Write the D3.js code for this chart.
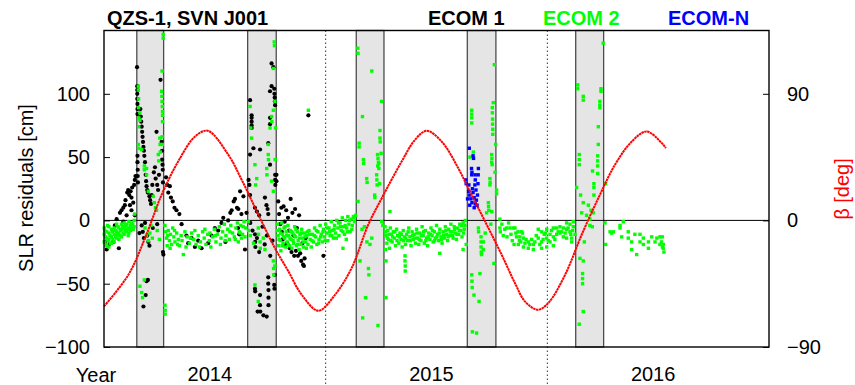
<!DOCTYPE html>
<html><head><meta charset="utf-8">
<script src="https://cdn.jsdelivr.net/npm/d3@7"></script>
<style>
html,body{margin:0;padding:0;background:#fff;}
svg{display:block;font-family:"Liberation Sans",Arial,sans-serif;}
</style></head><body>
<svg id="chart" width="855" height="385"></svg>
<script>
// ---------------- data ----------------
const eclipseStart = [2014.148, 2014.648, 2015.138, 2015.639, 2016.128];
const eclipseEnd   = [2014.269, 2014.777, 2015.263, 2015.768, 2016.254];
const yearLabels   = ["2014", "2015", "2016"];
const yearDividers = [2015, 2016];
const leftTicks  = [-100, -50, 0, 50, 100];
const rightTicks = [-90, 0, 90];

const betaTime = [2014.000,2014.110,2014.185,2014.260,2014.335,2014.411,2014.468,2014.561,2014.621,2014.711,2014.771,2014.831,2014.892,2014.967,2015.042,2015.117,2015.192,2015.253,2015.343,2015.403,2015.456,2015.523,2015.598,2015.643,2015.719,2015.794,2015.854,2015.899,2015.957,2016.004,2016.080,2016.155,2016.230,2016.305,2016.381,2016.448,2016.516,2016.535];
const betaDeg  = [-61.1,-38.7,-12.6,18.2,42.0,59.7,63.7,46.6,28.9,-0.7,-19.7,-36.0,-52.9,-64.2,-52.9,-33.9,-3.1,15.8,41.9,57.3,63.7,56.1,37.2,23.0,-0.7,-24.4,-44.6,-57.6,-63.5,-58.8,-38.7,-10.2,15.8,39.5,56.1,63.2,55.0,51.4];

// ECOM 1 (black)
const ecom1 = [
[2014.004,-17],[2014.012,-23],[2014.022,-19],[2014.042,-17],[2014.049,-4],[2014.057,1],[2014.067,-22],[2014.072,6],[2014.079,8],[2014.087,10],[2014.087,-1],[2014.094,12],[2014.097,16],[2014.102,4],[2014.105,22],[2014.109,24],[2014.114,20],[2014.117,12],[2014.120,23],[2014.124,18],[2014.124,8],[2014.127,26],[2014.132,14],[2014.136,28],[2014.139,32],[2014.139,4],[2014.142,35],
[2014.149,121],[2014.150,106],[2014.150,103],[2014.150,100],[2014.150,96],[2014.151,92],[2014.151,88],[2014.151,84],[2014.151,51],[2014.151,46],[2014.152,40],[2014.152,35],[2014.153,30],
[2014.164,88],[2014.166,82],[2014.168,78],[2014.170,74],[2014.172,70],[2014.174,66],[2014.176,62],[2014.178,58],[2014.180,55],[2014.182,51],[2014.185,46],
[2014.188,36],[2014.190,31],[2014.192,27],[2014.195,24],[2014.198,22],[2014.205,19],[2014.208,16],[2014.212,13],[2014.215,20],[2014.218,28],
[2014.225,38],[2014.230,42],[2014.233,33],[2014.237,70],[2014.240,28],[2014.244,24],[2014.248,36],
[2014.255,111],[2014.260,62],[2014.262,55],[2014.262,48],[2014.264,44],[2014.265,40],[2014.266,30],
[2014.170,-4],[2014.175,-9],[2014.180,-14],[2014.185,-2],[2014.195,-12],[2014.200,-17],[2014.205,-20],[2014.198,-47],[2014.192,-48],[2014.178,-68],[2014.188,-59],[2014.266,-25],[2014.268,-27],[2014.160,-10],[2014.220,-6],[2014.240,-3],
[2014.280,34],[2014.285,28],[2014.290,22],[2014.297,27],[2014.302,18],[2014.310,15],[2014.318,10],[2014.327,8],[2014.340,5],[2014.350,-3],[2014.372,-12],[2014.380,-18],[2014.395,-14],[2014.410,-21],[2014.425,-16],[2014.440,-22],[2014.470,-18],[2014.485,-12],[2014.500,-6],[2014.515,-8],[2014.530,-2],[2014.538,2],[2014.548,-17],[2014.560,0],[2014.570,6],[2014.576,8],[2014.585,15],[2014.591,17],[2014.600,10],[2014.606,9],[2014.614,23],[2014.620,5],[2014.629,19],[2014.605,-6],[2014.610,-11],[2014.636,-23],[2014.643,6],
[2014.659,95],[2014.666,83],[2014.666,81],[2014.666,78],[2014.666,75],[2014.666,73],[2014.659,52],[2014.652,32],[2014.656,28],[2014.659,20],[2014.674,57],[2014.704,56],[2014.681,10],[2014.690,7],[2014.700,4],[2014.726,18],[2014.733,12],[2014.738,9],[2014.741,5],[2014.749,102],[2014.756,106],[2014.756,124],[2014.764,121],[2014.768,104],[2014.769,100],[2014.770,97],[2014.771,94],[2014.772,91],[2014.749,81],[2014.749,76],[2014.741,61],[2014.749,44],[2014.772,36],[2014.772,32],[2014.773,28],[2014.778,36],[2014.778,31],
[2014.681,-11],[2014.682,-17],[2014.683,-21],[2014.681,-54],[2014.682,-56],[2014.693,-72],[2014.704,-59],[2014.704,-67],[2014.705,-72],[2014.719,-75],[2014.734,-76],[2014.741,-45],[2014.741,-50],[2014.742,-55],[2014.742,-61],[2014.742,-67],[2014.768,-51],[2014.769,-54],[2014.771,-43],[2014.660,-2],[2014.670,-8],[2014.690,-14],[2014.700,-25],[2014.715,-5],[2014.725,-19],[2014.735,-12],[2014.750,-28],[2014.760,-16],
[2014.786,15],[2014.790,5],[2014.795,-3],[2014.800,10],[2014.802,-9],[2014.806,-15],[2014.810,11],[2014.815,-1],[2014.818,-20],[2014.822,8],[2014.826,-18],[2014.830,2],[2014.835,-8],[2014.838,-22],[2014.842,17],[2014.846,-25],[2014.850,6],[2014.855,-12],[2014.858,-28],[2014.862,9],[2014.866,-24],[2014.870,-6],[2014.875,-28],[2014.880,4],[2014.885,-26],[2014.890,-32],[2014.895,-18],[2014.898,-35],[2014.902,-36],[2014.905,-30],[2014.910,-14],[2014.922,83],[2014.990,-28]
];

// ECOM 2 (green)
const ecom2 = [
[2014.001,-6],[2014.001,-11],[2014.001,-17],[2014.012,-9],[2014.012,-14],[2014.012,-19],[2014.022,-5],[2014.022,-10],[2014.022,-15],[2014.022,-21],[2014.034,-7],[2014.034,-13],[2014.034,-18],[2014.046,-6],[2014.046,-11],[2014.046,-17],[2014.057,-3],[2014.057,-9],[2014.057,-14],[2014.067,-6],[2014.067,-10],[2014.067,-15],[2014.079,-3],[2014.079,-7],[2014.079,-13],[2014.091,-2],[2014.091,-6],[2014.091,-11],[2014.102,-3],[2014.102,-9],[2014.112,-1],[2014.112,-6],[2014.112,-10],[2014.124,-2],[2014.124,-6],[2014.136,0],[2014.136,-5],[2014.138,5],
[2014.004,-8],[2014.007,-13],[2014.009,-20],[2014.016,-4],[2014.018,-16],[2014.027,-12],[2014.029,-18],[2014.038,-9],[2014.040,-15],[2014.051,-8],[2014.053,-13],[2014.061,-11],[2014.063,-5],[2014.071,-12],[2014.074,-8],[2014.084,-5],[2014.086,-10],[2014.095,-8],[2014.098,-4],[2014.107,-7],[2014.109,-12],[2014.118,-4],[2014.120,-8],[2014.130,-3],[2014.132,-7],
[2014.267,147],[2014.267,144],[2014.262,118],[2014.155,106],[2014.155,103],[2014.156,96],[2014.156,89],[2014.157,81],[2014.157,74],[2014.162,85],[2014.162,79],[2014.155,60],[2014.156,57],[2014.170,56],[2014.182,43],[2014.182,40],[2014.192,41],[2014.192,36],[2014.200,23],[2014.222,19],[2014.227,14],[2014.232,10],[2014.237,8],[2014.245,52],[2014.247,47],[2014.252,65],[2014.253,60],[2014.254,54],[2014.260,102],[2014.261,98],[2014.262,94],[2014.263,90],[2014.264,86],[2014.264,83],[2014.264,78],[2014.262,66],[2014.263,60],[2014.185,-6],[2014.192,-12],[2014.200,-16],[2014.207,-10],[2014.212,-4],[2014.218,-14],[2014.162,-52],[2014.174,-61],[2014.182,-47],[2014.170,-57],[2014.275,-67],[2014.276,-71],[2014.276,-74],[2014.240,-8],[2014.250,-15],
[2014.275,-4],[2014.278,-9],[2014.282,-14],[2014.285,-20],[2014.290,-8],[2014.295,-16],[2014.300,-11],[2014.305,-19],[2014.310,-6],[2014.315,-13],[2014.320,-17],[2014.328,-10],[2014.335,-15],[2014.340,-20],[2014.348,-12],[2014.358,-27],[2014.365,-9],[2014.375,-13],[2014.385,-18],[2014.395,-10],[2014.405,-15],[2014.415,-19],[2014.425,-12],[2014.435,-17],[2014.445,-9],[2014.452,-14],[2014.460,-19],[2014.468,-11],[2014.475,-16],[2014.482,-21],[2014.490,-13],[2014.498,-7],[2014.505,-17],[2014.512,-11],[2014.520,-5],[2014.528,-14],[2014.535,-9],[2014.543,-3],[2014.550,-12],[2014.558,-7],[2014.565,-15],[2014.572,-4],[2014.580,-10],[2014.588,-13],[2014.595,-6],[2014.602,-2],[2014.610,-9],[2014.617,-4],[2014.625,-11],[2014.632,-1],[2014.640,-6],[2014.614,-10],[2014.628,-5],[2014.636,-13],[2014.606,-17],
[2014.287,-12],[2014.298,-22],[2014.318,-8],[2014.332,-19],[2014.352,-16],[2014.370,-21],[2014.390,-14],[2014.410,-8],[2014.430,-21],[2014.455,-7],[2014.478,-10],[2014.502,-12],[2014.525,-19],[2014.547,-16],[2014.568,-9],[2014.592,-15],[2014.620,-14],
[2014.659,90],[2014.662,73],[2014.666,65],[2014.681,44],[2014.684,28],[2014.689,33],[2014.741,60],[2014.741,52],[2014.742,48],[2014.734,41],[2014.735,36],[2014.749,73],[2014.756,82],[2014.757,78],[2014.764,87],[2014.768,141],[2014.769,138],[2014.764,120],[2014.771,94],[2014.774,73],[2014.756,31],[2014.764,23],[2014.772,48],
[2014.651,-1],[2014.652,-8],[2014.696,-6],[2014.697,-11],[2014.704,-17],[2014.705,-22],[2014.719,-14],[2014.726,-23],[2014.681,-51],[2014.696,-64],[2014.764,-32],[2014.765,-38],[2014.766,-43],[2014.771,-36],[2014.660,-12],[2014.675,-18],
[2014.782,-3],[2014.785,-12],[2014.788,-20],[2014.792,-7],[2014.795,-16],[2014.798,-24],[2014.802,-2],[2014.805,-11],[2014.808,-18],[2014.812,-6],[2014.815,-14],[2014.818,-21],[2014.822,-9],[2014.826,-17],[2014.830,-4],[2014.833,-12],[2014.837,-20],[2014.840,-8],[2014.844,-15],[2014.848,-22],[2014.852,-10],[2014.856,-18],[2014.860,-5],[2014.864,-13],[2014.868,-20],[2014.872,-9],[2014.876,-16],[2014.880,-23],[2014.884,-11],[2014.888,-19],[2014.892,-7],[2014.896,-14],[2014.900,-21],[2014.905,-10],[2014.910,-17],[2014.915,-12],[2014.920,-19],[2014.922,87],[2014.925,-8],[2014.930,-15],[2014.935,-21],[2014.940,-11],[2014.945,-17],[2014.950,-6],[2014.955,-13],[2014.960,-19],[2014.965,-9],[2014.970,-15],[2014.975,-4],[2014.980,-11],[2014.985,-17],[2014.990,-7],[2014.995,-13],[2015.000,-3],[2015.005,-10],[2015.010,-16],[2015.015,-6],[2015.020,-12],[2015.025,-1],[2015.030,-8],[2015.035,-14],[2015.040,-4],[2015.045,-10],[2015.050,0],[2015.055,-6],[2015.060,-12],[2015.065,-2],[2015.070,-8],[2015.075,2],[2015.080,-5],[2015.085,-11],[2015.090,0],[2015.095,-6],[2015.100,3],[2015.105,-3],[2015.110,-9],[2015.115,1],[2015.120,-4],[2015.125,3],[2015.130,-1],[2015.078,-22],[2015.093,-15],
[2014.783,-8],[2014.790,-15],[2014.797,-10],[2014.804,-20],[2014.810,-13],[2014.817,-5],[2014.824,-12],[2014.831,-19],[2014.839,-14],[2014.846,-9],[2014.853,-16],[2014.858,-12],[2014.866,-7],[2014.874,-19],[2014.882,-14],[2014.890,-10],[2014.898,-17],[2014.907,-13],[2014.913,-22],[2014.918,-9],[2014.928,-11],[2014.938,-16],[2014.948,-12],[2014.958,-8],[2014.968,-18],[2014.978,-13],[2014.988,-9],[2014.998,-16],[2015.008,-6],[2015.018,-9],[2015.028,-12],[2015.038,-7],[2015.048,-14],[2015.058,-2],[2015.068,-5],[2015.078,-9],[2015.088,-4],[2015.098,-9],[2015.108,0],[2015.118,-7],[2015.128,2],[2015.135,4],
[2015.145,136],[2015.146,132],[2015.208,118],[2015.252,94],[2015.166,82],[2015.151,61],[2015.151,58],[2015.245,71],[2015.245,65],[2015.246,62],[2015.234,52],[2015.236,49],[2015.238,46],[2015.235,43],[2015.240,41],[2015.170,48],[2015.171,45],[2015.185,33],[2015.187,30],[2015.230,36],[2015.231,32],[2015.232,28],[2015.221,20],[2015.222,18],[2015.146,15],[2015.164,-7],[2015.175,-5],[2015.253,-1],[2015.155,-32],[2015.193,-38],[2015.195,-43],[2015.180,-61],[2015.167,-77],[2015.236,-83],[2015.200,-19],[2015.208,-14],[2015.186,-17],[2015.250,53],[2015.243,29],[2015.258,-4],[2015.240,45],
[2015.268,-5],[2015.272,-12],[2015.276,-18],[2015.280,-8],[2015.284,-15],[2015.288,-22],[2015.292,-6],[2015.296,-11],[2015.300,-17],[2015.305,-9],[2015.310,-14],[2015.315,-20],[2015.320,-7],[2015.325,-12],[2015.330,-18],[2015.335,-10],[2015.340,-15],[2015.345,-21],[2015.350,-8],[2015.355,-13],[2015.360,-19],[2015.365,-11],[2015.370,-16],[2015.375,-6],[2015.380,-13],[2015.385,-20],[2015.390,-9],[2015.395,-15],[2015.400,-11],[2015.405,-18],[2015.410,-7],[2015.415,-14],[2015.420,-19],[2015.425,-10],[2015.430,-16],[2015.435,-5],[2015.440,-12],[2015.445,-18],[2015.450,-8],[2015.455,-14],[2015.460,-20],[2015.465,-10],[2015.470,-15],[2015.475,-6],[2015.480,-12],[2015.485,-17],[2015.490,-9],[2015.495,-14],[2015.500,-4],[2015.505,-11],[2015.510,-16],[2015.515,-7],[2015.520,-13],[2015.525,-18],[2015.530,-9],[2015.535,-14],[2015.540,-5],[2015.545,-11],[2015.550,-16],[2015.555,-7],[2015.560,-12],[2015.565,-3],[2015.570,-9],[2015.575,-14],[2015.580,-5],[2015.585,-10],[2015.590,-15],[2015.595,-6],[2015.600,-11],[2015.605,-3],[2015.610,-8],[2015.615,-13],[2015.620,-2],[2015.625,-7],[2015.630,0],[2015.634,-19],
[2015.270,-9],[2015.278,-14],[2015.286,-11],[2015.294,-16],[2015.302,-13],[2015.312,-9],[2015.322,-16],[2015.332,-13],[2015.342,-11],[2015.352,-16],[2015.362,-14],[2015.372,-9],[2015.382,-16],[2015.392,-12],[2015.402,-14],[2015.412,-10],[2015.422,-15],[2015.432,-12],[2015.442,-9],[2015.452,-16],[2015.462,-13],[2015.472,-11],[2015.482,-8],[2015.492,-16],[2015.502,-13],[2015.512,-10],[2015.522,-15],[2015.532,-12],[2015.542,-8],[2015.552,-13],[2015.562,-9],[2015.572,-12],[2015.582,-7],[2015.592,-11],[2015.602,-8],[2015.612,-4],[2015.622,-10],[2015.628,-4],
[2015.270,-23],[2015.358,-28],[2015.358,-32],[2015.359,-36],[2015.359,-40],[2015.272,-32],[2015.272,-61],[2015.290,7],[2015.515,-26],[2015.620,-23],
[2015.659,87],[2015.659,84],[2015.659,81],[2015.659,77],[2015.756,93],[2015.752,89],[2015.752,85],[2015.753,80],[2015.753,76],[2015.754,72],[2015.754,68],[2015.761,123],[2015.767,60],[2015.749,52],[2015.750,49],[2015.749,46],[2015.751,44],[2015.741,33],[2015.742,30],[2015.741,28],[2015.764,38],[2015.771,24],[2015.771,21],[2015.734,14],[2015.735,11],[2015.736,8],[2015.749,7],[2015.726,6],[2015.666,54],[2015.651,50],
[2015.689,-6],[2015.690,-9],[2015.701,-13],[2015.701,-17],[2015.701,-21],[2015.702,-25],[2015.703,-27],[2015.711,-17],[2015.711,-23],[2015.696,-42],[2015.659,-43],[2015.660,-48],[2015.661,-53],[2015.669,-59],[2015.692,-64],[2015.662,-88],[2015.681,-89],[2015.759,-34],[2015.720,-10],[2015.745,-3],
[2015.786,1],[2015.786,-6],[2015.788,-9],[2015.795,-3],[2015.801,-12],[2015.808,-7],[2015.816,-6],[2015.818,-13],[2015.825,-2],[2015.831,-6],[2015.836,-11],[2015.842,-16],[2015.846,-6],[2015.850,-19],[2015.854,-6],[2015.861,-13],[2015.868,-9],[2015.869,-19],[2015.876,-13],[2015.880,-17],[2015.888,-10],[2015.892,-14],[2015.892,-21],[2015.899,-18],[2015.914,-17],[2015.914,-22],[2015.929,-15],[2015.937,-19],[2015.937,-23],[2015.944,-17],[2015.959,-7],[2015.959,-14],[2015.974,-9],[2015.974,-17],[2015.974,-22],[2015.986,-11],[2015.997,-7],[2015.997,-14],[2015.997,-21],[2016.012,-11],[2016.012,-17],[2016.027,-6],[2016.027,-13],[2016.027,-20],[2016.042,-6],[2016.042,-11],[2016.049,-9],[2016.057,-5],[2016.057,-10],[2016.072,-6],[2016.072,-13],[2016.080,-10],[2016.087,-2],[2016.087,-7],[2016.087,-14],[2016.102,-3],[2016.102,-9],[2016.110,-14],[2016.110,-17],[2016.117,-1],[2016.117,-5],
[2015.858,-10],[2015.874,-16],[2015.884,-9],[2015.904,-15],[2015.921,-19],[2015.950,-12],[2015.966,-19],[2015.981,-15],[2015.991,-10],[2016.004,-16],[2016.019,-8],[2016.034,-15],[2016.064,-9],[2016.094,-6],[2016.106,-11],[2016.114,-8],
[2016.137,107],[2016.137,104],[2016.162,98],[2016.162,95],[2016.242,104],[2016.242,102],[2016.237,94],[2016.237,91],[2016.237,89],[2016.252,140],[2016.230,74],[2016.230,60],[2016.227,51],[2016.227,47],[2016.227,43],[2016.227,37],[2016.144,52],[2016.144,48],[2016.144,44],[2016.204,39],[2016.210,29],[2016.210,26],[2016.210,20],[2016.263,29],[2016.132,26],[2016.150,20],[2016.162,14],[2016.185,12],[2016.197,8],[2016.207,6],[2016.155,6],[2016.177,4],[2016.192,1],[2016.192,-4],[2016.203,-5],[2016.147,-30],[2016.162,-32],[2016.159,-42],[2016.159,-46],[2016.159,-50],[2016.162,-72],[2016.144,-82],[2016.167,-17],[2016.125,-11],[2016.260,-2],[2016.263,-19],
[2016.283,-9],[2016.290,-10],[2016.298,-9],[2016.328,-4],[2016.328,-6],[2016.343,-1],[2016.335,-13],[2016.365,-9],[2016.365,-14],[2016.380,-17],[2016.380,-23],[2016.403,-27],[2016.395,-11],[2016.418,-11],[2016.418,-17],[2016.433,-14],[2016.433,-19],[2016.456,-17],[2016.456,-22],[2016.471,-13],[2016.486,-17],[2016.494,-14],[2016.508,-13],[2016.508,-19],[2016.515,-17],[2016.519,-21],[2016.519,-13],[2016.523,-19],[2016.523,-22],[2016.526,-25]
];

// ECOM-N (blue)
const ecomN = [
[2015.648,57],[2015.665,51],[2015.667,49],[2015.658,41],[2015.660,38],[2015.659,36],[2015.674,36],[2015.675,32],[2015.673,28],[2015.689,41],[2015.688,36],[2015.687,29],[2015.632,32],[2015.634,29],[2015.646,28],[2015.645,23],[2015.650,20],[2015.655,17],[2015.660,14],[2015.665,22],[2015.670,18],[2015.675,13],[2015.680,16],[2015.685,20],[2015.650,12],[2015.662,25],[2015.678,24],[2015.640,17],[2015.670,10],[2015.683,12]
];

// ---------------- drawing ----------------
(function () {
const svg = d3.select("#chart");
const pL = 104, pR = 769, pT = 30.5, pB = 347;
const x  = d3.scaleLinear().domain([2014, 2017]).range([pL, pR]);
const yL = d3.scaleLinear().domain([-100, 150]).range([pB, pT]);
const yR = d3.scaleLinear().domain([-90, 135]).range([pB, pT]);
const FS = 20;

// eclipse seasons
svg.append("g").selectAll("rect").data(eclipseStart).join("rect")
  .attr("x", d => x(d)).attr("y", pT)
  .attr("width", (d, i) => x(eclipseEnd[i]) - x(d)).attr("height", pB - pT)
  .attr("fill", "#e5e5e5").attr("stroke", "#4d4d4d").attr("stroke-width", 1.3);

// year dividers (dotted)
svg.append("g").selectAll("line").data(yearDividers).join("line")
  .attr("x1", d => x(d)).attr("x2", d => x(d)).attr("y1", pT).attr("y2", 385)
  .attr("stroke", "#333").attr("stroke-width", 1).attr("stroke-dasharray", "1.5,2.5");

// zero line
svg.append("line").attr("x1", pL).attr("x2", pR)
  .attr("y1", yL(0)).attr("y2", yL(0)).attr("stroke", "#000").attr("stroke-width", 1);

// points
svg.append("g").selectAll("circle").data(ecom1).join("circle")
  .attr("cx", d => x(d[0])).attr("cy", d => yL(d[1])).attr("r", 2.1).attr("fill", "#000");
svg.append("g").selectAll("rect").data(ecom2).join("rect")
  .attr("x", d => x(d[0]) - 1.7).attr("y", d => yL(d[1]) - 1.7)
  .attr("width", 3.4).attr("height", 3.4).attr("fill", "#00ff00");
svg.append("g").selectAll("rect").data(ecomN).join("rect")
  .attr("x", d => x(d[0]) - 1.7).attr("y", d => yL(d[1]) - 1.7)
  .attr("width", 3.4).attr("height", 3.4).attr("fill", "#0000ff");

// beta angle
const betaLine = d3.line().x((d, i) => x(betaTime[i])).y(d => yR(d)).curve(d3.curveCatmullRom);
svg.append("path").datum(betaDeg).attr("d", betaLine)
  .attr("fill", "none").attr("stroke", "#ff0000").attr("stroke-width", 2)
  .attr("stroke-dasharray", "2.5,0.5");

// frame
svg.append("rect").attr("x", pL).attr("y", pT).attr("width", pR - pL).attr("height", pB - pT)
  .attr("fill", "none").attr("stroke", "#000").attr("stroke-width", 1.4);

// axes
const gL = svg.append("g").attr("transform", `translate(${pL},0)`)
  .call(d3.axisLeft(yL).tickValues(leftTicks).tickSizeInner(-6).tickSizeOuter(0).tickPadding(14));
const gR = svg.append("g").attr("transform", `translate(${pR},0)`)
  .call(d3.axisRight(yR).tickValues(rightTicks).tickSizeInner(-6).tickSizeOuter(0).tickPadding(18));
const gB = svg.append("g").attr("transform", `translate(0,${pB})`)
  .call(d3.axisBottom(x).tickValues(yearLabels.map(s => +s + 0.475))
        .tickFormat(d => String(Math.floor(d))).tickSize(0).tickPadding(20));
[gL, gR, gB].forEach(g => {
  g.select(".domain").remove();
  g.selectAll(".tick line").attr("stroke", "#000").attr("stroke-width", 1);
  g.selectAll("text").attr("font-size", FS).attr("font-family", '"Liberation Sans",Arial,sans-serif').attr("fill", "#000");
});

svg.append("text").attr("x", 96).attr("y", 381.5).attr("text-anchor", "middle")
  .attr("font-size", FS).text("Year");

// axis titles
svg.append("text").attr("transform", "translate(33,188) rotate(-90)").attr("text-anchor", "middle")
  .attr("font-size", FS).text("SLR residuals [cm]");
svg.append("text").attr("transform", "translate(849,189) rotate(-90)").attr("text-anchor", "middle")
  .attr("font-size", FS).attr("fill", "#ff0000").text("β [deg]");

// title and legend
svg.append("text").attr("x", 107).attr("y", 24.5).attr("font-size", FS).attr("font-weight", "bold").text("QZS-1, SVN J001");
const legend = [["ECOM 1", "#000000", 428], ["ECOM 2", "#00ff00", 543], ["ECOM-N", "#0000ff", 668]];
svg.append("g").selectAll("text").data(legend).join("text")
  .attr("x", d => d[2]).attr("y", 24.5).attr("font-size", FS).attr("font-weight", "bold")
  .attr("fill", d => d[1]).text(d => d[0]);
})();
</script>
</body></html>
